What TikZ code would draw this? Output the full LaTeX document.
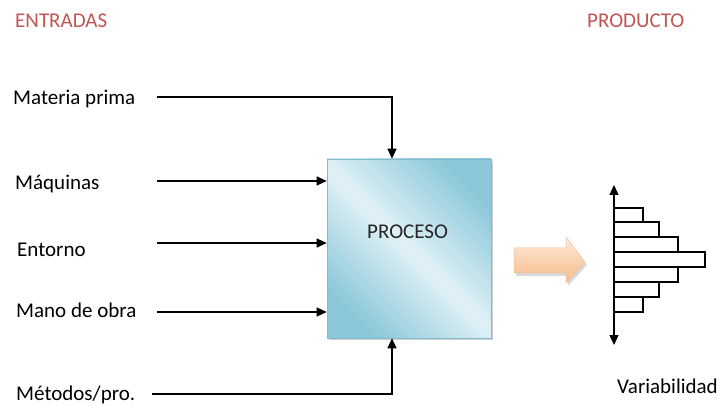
\documentclass[tikz,border=0pt]{standalone}
\usepackage{fontspec}
\setmainfont{Carlito}
\usetikzlibrary{arrows.meta,calc}
\definecolor{headred}{RGB}{192,86,82}
\definecolor{boxdark}{RGB}{140,200,218}
\definecolor{boxlight}{RGB}{224,241,247}
\definecolor{boxline}{RGB}{130,186,206}
\definecolor{peach}{RGB}{253,236,222}
\definecolor{orangedeep}{RGB}{247,185,135}
\definecolor{orangeline}{RGB}{240,190,150}
\tikzset{
  lbl/.style={anchor=base west, inner sep=0pt, font=\fontsize{21}{25}\selectfont},
  head/.style={lbl, text=headred},
  feed/.style={line width=1.2pt, -{Triangle[length=10pt,width=9pt]}},
  bar/.style={line width=1.1pt, draw=black},
}
\begin{document}
\begin{tikzpicture}[x=1pt,y=-1pt]
\useasboundingbox (0,0) rectangle (718,406);

% headings
\node[head] (hin)  at (15,28)  {ENTRADAS};
\node[head] (hout) at (587,28) {PRODUCTO};

% input labels
\node[lbl] (mp)  at (13,105) {Materia prima};
\node[lbl] (maq) at (15,190) {Máquinas};
\node[lbl] (ent) at (17,257) {Entorno};
\node[lbl] (mo)  at (16,317) {Mano de obra};
\node[lbl] (met) at (16,400) {Métodos/pro.};

% process block with soft shadow
\fill[black!18] (329,161) rectangle (493,340);
\node[draw=boxline, line width=0.6pt, minimum width=164pt, minimum height=179pt,
      inner sep=0pt, top color=boxdark, bottom color=boxdark, middle color=boxlight,
      shading angle=-45] (proc) at (409,248.5) {};
\node[lbl, text=black!85] (ptxt) at (367,239) {PROCESO};

% connector start points
\coordinate (mpS)  at (157,97);
\coordinate (maqS) at (157,181);
\coordinate (entS) at (157,243);
\coordinate (moS)  at (157,312);
\coordinate (metS) at (152,394);

\draw[feed] (mpS) -| ([xshift=-17pt]proc.north);
\draw[feed] (maqS) -- (maqS -| proc.west);
\draw[feed] (entS) -- (entS -| proc.west);
\draw[feed] (moS) -- (moS -| proc.west);
\draw[feed] (metS) -| ([xshift=-17pt]proc.south);

% output arrow
\fill[black!15] (516,251) -- (568,251) -- (568,240) -- (587,265) -- (568,286) -- (568,276) -- (516,276) -- cycle;
\draw[draw=orangeline, line width=0.5pt, top color=peach, bottom color=orangedeep]
  (514,248) -- (566,248) -- (566,237) -- (585,262) -- (566,283) -- (566,273) -- (514,273) -- cycle;

% variability histogram
\draw[line width=1.3pt, {Triangle[length=10pt,width=9pt]}-{Triangle[length=10pt,width=9pt]}]
  (614,185) coordinate (axT) -- (614,345) coordinate (axB);
\draw[bar] (614,208) rectangle (643,222);
\draw[bar] (614,222) rectangle (659,237);
\draw[bar] (614,237) rectangle (678,252);
\draw[bar] (614,252) rectangle (705,267);
\draw[bar] (614,267) rectangle (678,282);
\draw[bar] (614,282) rectangle (659,297);
\draw[bar] (614,297) rectangle (643,312);
\node[lbl] (var) at (617,393) {Variabilidad};
\end{tikzpicture}
\end{document}
